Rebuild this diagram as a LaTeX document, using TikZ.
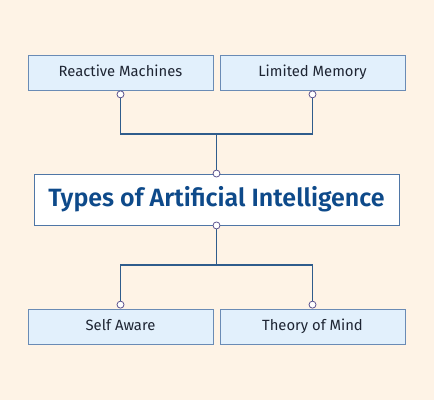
\documentclass[tikz,border=0pt]{standalone}
\usepackage{fontspec}
\setmainfont{Fira Sans}[BoldFont={Fira Sans SemiBold}]
\usetikzlibrary{positioning}
\definecolor{bgcream}{HTML}{FEF3E6}
\definecolor{boxfill}{HTML}{E2F0FC}
\definecolor{boxline}{HTML}{6A8BB5}
\definecolor{hubline}{HTML}{4F76A6}
\definecolor{wire}{HTML}{2F5C8C}
\definecolor{dotline}{HTML}{5E5590}
\definecolor{titleblue}{HTML}{0E4A8A}
\definecolor{labeltext}{HTML}{1E2533}

\begin{document}
\begin{tikzpicture}[x=1pt, y=-1pt,
    typebox/.style={draw=boxline, line width=0.9pt, fill=boxfill, minimum width=185pt,
        minimum height=35pt, inner sep=0pt, text=labeltext, text height=10.5pt, text depth=3pt,
        font=\fontsize{14.8}{17}\selectfont},
    hubbox/.style={draw=hubline, line width=0.9pt, fill=white, minimum width=365pt,
        minimum height=51pt, inner sep=0pt, text=titleblue,
        font=\fontsize{25}{30}\selectfont\bfseries},
    joint/.style={circle, draw=dotline, line width=0.8pt, fill=white, minimum size=7pt, inner sep=0pt},
    wireline/.style={draw=wire, line width=1.2pt}]

% --- CANVAS ---
\fill[bgcream] (0,0) rectangle (434,400);
\useasboundingbox (0,0) rectangle (434,400);

% --- BOXES ---
\node[typebox] (reactive) at (120.5,72.5) {Reactive Machines};
\node[typebox] (limited) at (312.5,72.5) {Limited Memory};
\node[hubbox] (types) at (216.5,199.5) {Types of Artificial Intelligence};
\node[typebox] (selfaware) at (120.5,326.5) {Self Aware};
\node[typebox] (theory) at (312.5,326.5) {Theory of Mind};

% --- JOINTS ---
\node[joint, below=0pt of reactive] (reactivedot) {};
\node[joint, below=0pt of limited] (limiteddot) {};
\node[joint] (typesin) at (types.north) {};
\node[joint] (typesout) at (types.south) {};
\node[joint, above=0pt of selfaware] (selfawaredot) {};
\node[joint, above=0pt of theory] (theorydot) {};

\coordinate (upper) at (216.5,134);
\coordinate (lower) at (216.5,265);

% --- CONNECTORS ---
\draw[wireline] (reactivedot.south) |- (upper);
\draw[wireline] (limiteddot.south) |- (upper);
\draw[wireline] (upper) -- (typesin.north);
\draw[wireline] (typesout.south) -- (lower);
\draw[wireline] (lower) -| (selfawaredot.north);
\draw[wireline] (lower) -| (theorydot.north);

\end{tikzpicture}
\end{document}
